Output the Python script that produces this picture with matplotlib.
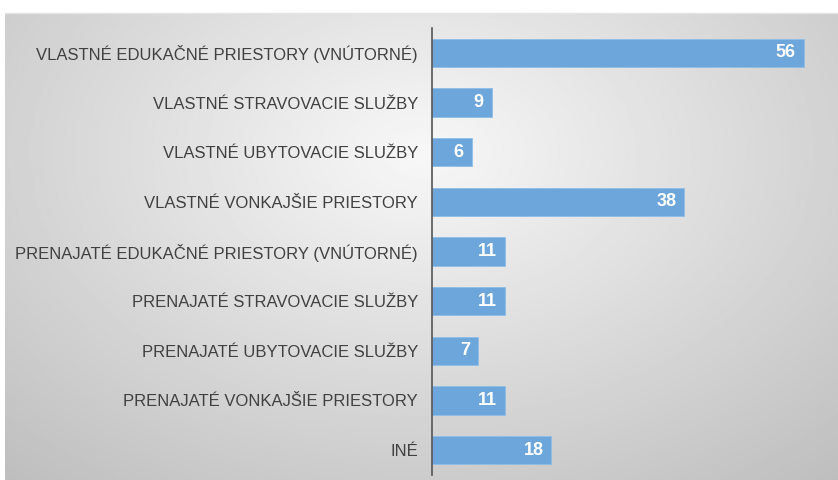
import numpy as np
import matplotlib.pyplot as plt

categories = [
    'VLASTNÉ EDUKAČNÉ PRIESTORY (VNÚTORNÉ)',
    'VLASTNÉ STRAVOVACIE SLUŽBY',
    'VLASTNÉ UBYTOVACIE SLUŽBY',
    'VLASTNÉ VONKAJŠIE PRIESTORY',
    'PRENAJATÉ EDUKAČNÉ PRIESTORY (VNÚTORNÉ)',
    'PRENAJATÉ STRAVOVACIE SLUŽBY',
    'PRENAJATÉ UBYTOVACIE SLUŽBY',
    'PRENAJATÉ VONKAJŠIE PRIESTORY',
    'INÉ',
]
values = [56, 9, 6, 38, 11, 11, 7, 11, 18]

fonts = ['Liberation Sans Narrow', 'Liberation Sans', 'DejaVu Sans']
plt.rcParams['font.family'] = fonts

fig = plt.figure(figsize=(8.38, 4.8), dpi=100)
fig.patch.set_facecolor('white')

# radial gradient background panel
bg = fig.add_axes([5 / 838, 0, 833 / 838, 467 / 480])
yy, xx = np.mgrid[0:1:300j, 0:1:500j]
r = np.sqrt(((xx - 0.5) / 0.75) ** 2 + ((yy - 0.3) / 0.9) ** 2)
shade = 0.97 - 0.22 * np.clip(r, 0, 1.2)
bg.imshow(shade, cmap='gray', vmin=0, vmax=1, aspect='auto', extent=(0, 1, 1, 0))
bg.axis('off')
fig.add_artist(plt.Line2D([5 / 838, 1], [467 / 480, 467 / 480], color='#e4e4e4', lw=1))

ax = fig.add_axes([432 / 838, 5 / 480, 406 / 838, 447 / 480])
ax.patch.set_alpha(0)
y = np.arange(len(categories))
bars = ax.barh(y, values, height=0.57, color='#6DA6DA', edgecolor='#8fbde6', linewidth=0.6)
ax.set_xlim(0, 61.2)
ax.set_ylim(len(categories) - 0.5, -0.5)

ax.set_yticks(y)
ax.set_yticklabels(categories, fontsize=12, color='#404040')
ax.tick_params(axis='y', length=0, pad=10)
ax.set_xticks([])
for s in ['top', 'right', 'bottom']:
    ax.spines[s].set_visible(False)
ax.spines['left'].set_color('#555555')
ax.spines['left'].set_linewidth(1.2)

for b, v in zip(bars, values):
    ax.text(b.get_width() - 1.2, b.get_y() + b.get_height() / 2, str(v),
            ha='right', va='center', color='white', fontsize=13, fontweight='bold')

fig.savefig('out.png', dpi=100)
